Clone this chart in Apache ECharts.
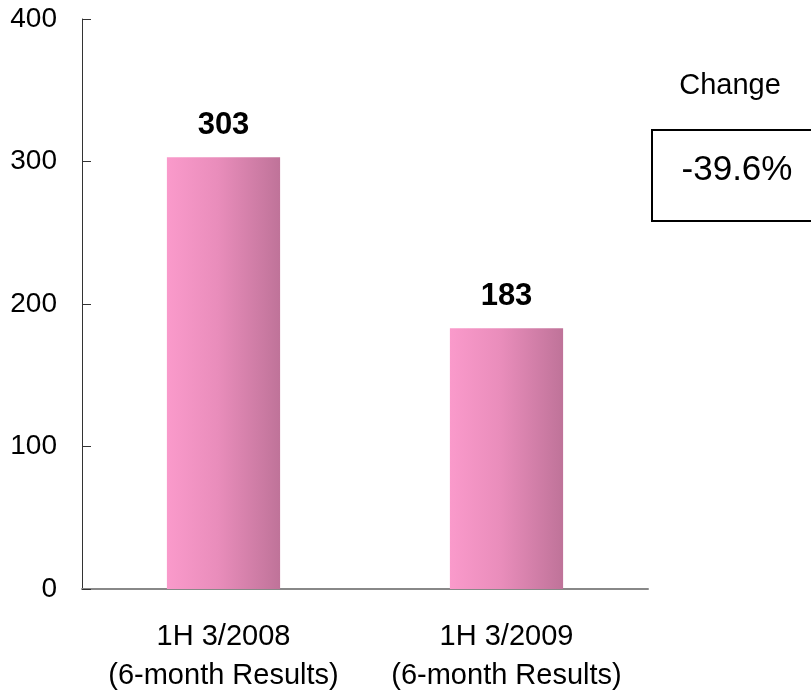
<!DOCTYPE html>
<html>
<head>
<meta charset="utf-8">
<script src="https://cdn.jsdelivr.net/npm/echarts@6/dist/echarts.min.js"></script>
<style>
  html, body { margin: 0; padding: 0; background: #fff; }
  #chart { width: 811px; height: 692px; }
</style>
</head>
<body>
<div id="chart"></div>
<script>
// 数据
const categories = ['1H 3/2008\n(6-month Results)', '1H 3/2009\n(6-month Results)'];
const values = [303, 183];
const yTicks = [0, 100, 200, 300, 400];

const changePct = ((values[1] - values[0]) / values[0] * 100).toFixed(1) + '%';

const myChart = echarts.init(document.getElementById('chart'));
const font = '"Liberation Sans", Arial, sans-serif';

const option = {
  animation: false,
  grid: {
    left: 82,
    right: 163,
    top: 19,
    bottom: 103,
    containLabel: false,
    outerBoundsMode: 'none'
  },
  xAxis: {
    type: 'category',
    data: categories,
    axisTick: { show: false },
    axisLine: {
      lineStyle: { color: '#888888', width: 2 }
    },
    axisLabel: {
      interval: 0,
      fontFamily: font,
      fontSize: 29,
      color: '#000',
      lineHeight: 39,
      margin: 28
    }
  },
  yAxis: {
    type: 'value',
    min: yTicks[0],
    max: yTicks[yTicks.length - 1],
    interval: 100,
    axisLine: {
      show: true,
      lineStyle: { color: '#333333', width: 1 }
    },
    axisTick: {
      show: true,
      inside: true,
      length: 9,
      lineStyle: { color: '#333333' }
    },
    splitLine: { show: false },
    axisLabel: {
      fontFamily: font,
      fontSize: 28,
      color: '#000',
      margin: 25
    }
  },
  series: [
    {
      type: 'bar',
      data: values,
      barWidth: '40%',
      itemStyle: {
        color: new echarts.graphic.LinearGradient(0, 0, 1, 0, [
          { offset: 0, color: '#FA9ACB' },
          { offset: 0.45, color: '#E98DBB' },
          { offset: 1, color: '#BF7399' }
        ])
      },
      label: {
        show: true,
        position: 'top',
        distance: 16,
        fontFamily: font,
        fontSize: 31,
        fontWeight: 'bold',
        color: '#000'
      }
    }
  ],
  graphic: [
    {
      type: 'text',
      x: 730,
      y: 86,
      style: {
        text: 'Change',
        font: '29px ' + font,
        fill: '#000',
        align: 'center',
        verticalAlign: 'middle'
      }
    },
    {
      type: 'rect',
      shape: { x: 652, y: 130, width: 175, height: 91 },
      style: { fill: '#fff', stroke: '#000', lineWidth: 2 }
    },
    {
      type: 'text',
      x: 737,
      y: 170,
      style: {
        text: changePct,
        font: '35px ' + font,
        fill: '#000',
        align: 'center',
        verticalAlign: 'middle'
      }
    }
  ]
};

myChart.setOption(option);
</script>
</body>
</html>
